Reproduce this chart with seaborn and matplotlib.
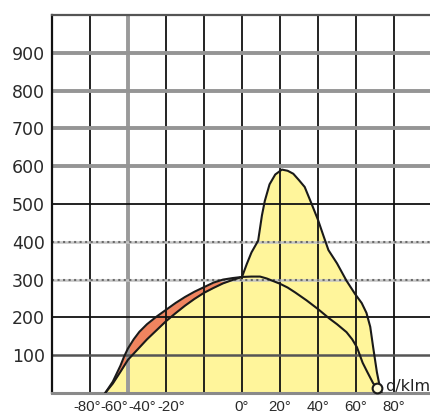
import numpy as np
import pandas as pd
import matplotlib
matplotlib.use("Agg")
import matplotlib.pyplot as plt
import matplotlib.transforms as mtransforms
import seaborn as sns

# ---- data ----
lat_a = [-72, -68, -64, -60, -55, -50, -45, -40, -35, -30, -25, -20, -15, -10, -5, 0,
         2.5, 5, 8.5, 10.5, 12, 14.5, 17.5, 21, 24, 27, 30, 33, 36.5, 40, 43, 45.5,
         50, 55, 59.5, 63, 65.5, 67.5, 69, 71, 72.5, 73.5]
pop_a = [0, 25, 56, 88, 115, 142, 166, 190, 211, 231, 249, 265, 278, 290, 299, 307,
         341, 372, 403, 470, 508, 552, 578, 591, 588, 580, 563, 545, 502, 458, 414, 378,
         343, 297, 262, 238, 212, 175, 122, 55, 17, 0]

lat_b = [-72, -68, -64, -62, -60, -57, -54, -50, -45, -40, -35, -30, -25, -20, -15, -10,
         -5, 0, 5, 9.5, 13, 16, 20, 24, 28, 34, 40, 46, 50, 55, 58, 60.5, 63.5, 66, 69, 71]
pop_b = [0, 30, 72, 97, 118, 142, 162, 182, 202, 220, 238, 254, 268, 280, 292, 300,
         304, 307, 308, 308, 303, 297, 289, 279, 266, 245, 222, 197, 182, 161, 142, 121,
         80, 55, 26, 13]

x_ticks = [-80, -60, -40, -20, 0, 20, 40, 60, 80]
x_labels = ["-80°", "-60°", "-40°", "-20°", "0°", "20°", "40°", "60°", "80°"]
y_ticks = [100, 200, 300, 400, 500, 600, 700, 800, 900]
unit_label = "d/klm"

YELLOW = "#FFF59B"
ORANGE = "#F0845F"
INK = "#1a1a1a"

sns.set_theme(style="white")
plt.rcParams["font.family"] = ["DejaVu Sans"]

fig = plt.figure(figsize=(4.30, 4.18), dpi=100)
ax = fig.add_axes([52 / 430, 25 / 418, 380 / 430, 378 / 418])
ax.set_xlim(-100, 100)
ax.set_ylim(0, 1000)

df_a = pd.DataFrame({"lat": lat_a, "pop": pop_a})
df_b = pd.DataFrame({"lat": lat_b, "pop": pop_b})

# fills: orange under B, yellow under A on top
ax.fill_between(df_b["lat"], 0, df_b["pop"], color=ORANGE, lw=0, zorder=1)
ax.fill_between(df_a["lat"], 0, df_a["pop"], color=YELLOW, lw=0, zorder=1.5)

# grid lines
for v in [-80, -40, -20, 0, 20, 40, 60, 80]:
    ax.axvline(v, color="#111111", lw=1.3, zorder=2)
ax.axvline(-60, color="#9a9a9a", lw=2.8, zorder=2)
for h in [600, 700, 800, 900]:
    ax.axhline(h, color="#959595", lw=2.8, zorder=2)
for h in [200, 500]:
    ax.axhline(h, color="#111111", lw=1.3, zorder=2)
ax.axhline(100, color="#555555", lw=1.8, zorder=2)
for h in [300, 400]:
    ax.axhline(h, color="#c4c4c4", lw=1.8, zorder=2)
    ax.axhline(h, color="#6a6a6a", lw=1.5, ls=":", zorder=2.1)

# curves
sns.lineplot(data=df_a, x="lat", y="pop", color=INK, lw=1.5, ax=ax, zorder=3,
             sort=False, estimator=None)
sns.lineplot(data=df_b, x="lat", y="pop", color=INK, lw=1.5, ax=ax, zorder=3,
             sort=False, estimator=None)
ax.plot(lat_b[-1], pop_b[-1], marker="o", ms=7, mfc="#fffbd8", mec=INK, mew=1.5,
        zorder=4, clip_on=False)

ax.text(75.5, 4, unit_label, fontsize=11.5, color="#222222", ha="left", va="baseline",
        zorder=5, clip_on=False)

# spines
ax.spines["right"].set_visible(False)
ax.spines["left"].set_color("#111111")
ax.spines["left"].set_linewidth(1.6)
ax.spines["top"].set_color("#555555")
ax.spines["top"].set_linewidth(1.6)
ax.spines["bottom"].set_color("#8a8a8a")
ax.spines["bottom"].set_linewidth(2.2)

ax.set_xticks(x_ticks)
ax.set_xticklabels(x_labels, family=["Liberation Sans", "DejaVu Sans"])
ax.set_yticks(y_ticks)
ax.set_yticklabels([str(v) for v in y_ticks])
ax.tick_params(axis="y", length=0, pad=5, labelsize=12.5, labelcolor="#2a2a2a")
ax.tick_params(axis="x", length=0, pad=5, labelsize=10.8, labelcolor="#2a2a2a")
ax.set_xlabel("")
ax.set_ylabel("")
ax.grid(False)

# shift the crowded southern labels as in the reference
shifts = {"-80°": -3, "-60°": -14, "-40°": -24, "-20°": -33}
for lab in ax.get_xticklabels():
    dx = shifts.get(lab.get_text(), 0)
    if dx:
        lab.set_transform(lab.get_transform() +
                          mtransforms.ScaledTranslation(dx / 100, 0, fig.dpi_scale_trans))

fig.savefig("out.png", dpi=100)
